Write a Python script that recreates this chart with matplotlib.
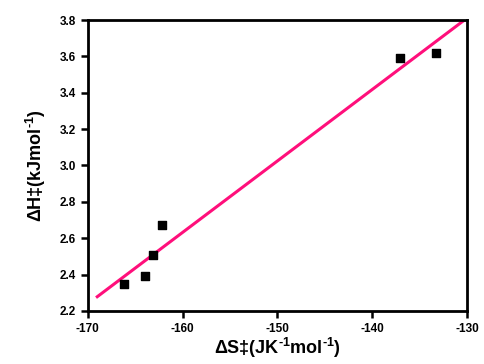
import matplotlib
matplotlib.use("Agg")
import matplotlib.pyplot as plt
import numpy as np

# activation entropy (x) vs activation enthalpy (y)
dS = [-166.2, -164.0, -163.1, -162.2, -137.1, -133.3]
dH = [2.35, 2.39, 2.51, 2.67, 3.59, 3.62]

x_ticks = [-170, -160, -150, -140, -130]
y_ticks = [2.2, 2.4, 2.6, 2.8, 3.0, 3.2, 3.4, 3.6, 3.8]

plt.rcParams["font.family"] = ["Liberation Sans", "DejaVu Sans"]
plt.rcParams["font.weight"] = "bold"
plt.rcParams["axes.labelweight"] = "bold"
plt.rcParams["axes.unicode_minus"] = False
plt.rcParams["mathtext.fontset"] = "custom"
plt.rcParams["mathtext.rm"] = "Liberation Sans:bold"
plt.rcParams["mathtext.bf"] = "Liberation Sans:bold"
plt.rcParams["mathtext.default"] = "bf"

fig = plt.figure(figsize=(4.85, 3.64), dpi=100)
ax = fig.add_axes([0.181, 0.146, 0.782, 0.799])

# linear fit
slope, intercept = np.polyfit(dS, dH, 1)
xf = np.array([-169, -130])
ax.plot(xf, slope * xf + intercept, color="#ff0f7b", linewidth=2.2, zorder=2)

ax.scatter(dS, dH, marker="s", s=38, color="black", zorder=3)

ax.set_xlim(-170, -130)
ax.set_ylim(2.2, 3.8)
ax.set_xticks(x_ticks)
ax.set_yticks(y_ticks)
ax.set_yticklabels([f"{v:.1f}" for v in y_ticks])
for lab in ax.get_xticklabels() + ax.get_yticklabels():
    lab.set_fontweight("bold")

for s in ax.spines.values():
    s.set_linewidth(2)
ax.tick_params(direction="out", length=5, width=1.8, labelsize=8.5)

ax.set_xlabel(r"ΔS‡(JK$^{\text{-}1}$mol$^{\text{-}1}$)", fontsize=13, labelpad=1)
ax.set_ylabel(r"ΔH‡(kJmol$^{\text{-}1}$)", fontsize=13, labelpad=8)

plt.savefig("out.png", dpi=100)
